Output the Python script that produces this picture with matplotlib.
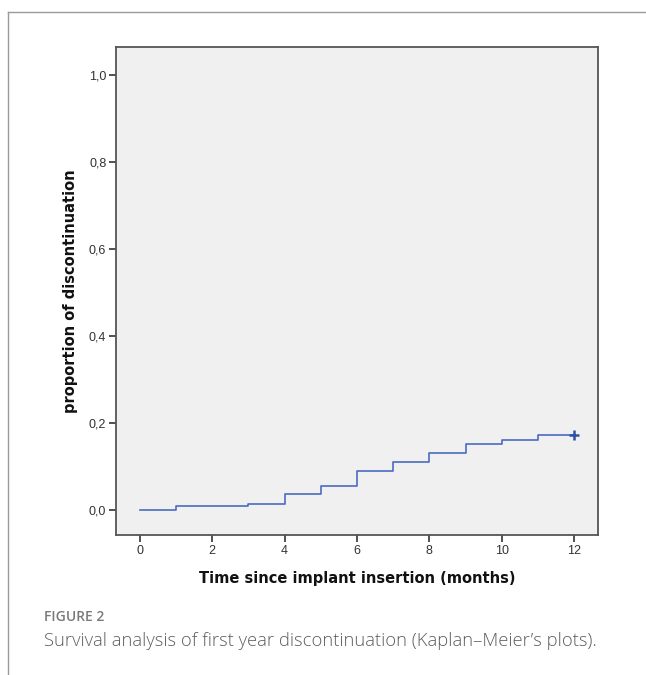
import matplotlib
matplotlib.use("Agg")
import matplotlib.pyplot as plt
from matplotlib.lines import Line2D

# Data
months = [0, 1, 2, 3, 4, 5, 6, 7, 8, 9, 10, 11, 12]
proportion = [0.0, 0.009, 0.009, 0.0145, 0.036, 0.055, 0.090, 0.110, 0.131, 0.151, 0.161, 0.172, 0.172]
censor_time = [12]
censor_value = [0.172]
x_ticks = [0, 2, 4, 6, 8, 10, 12]
y_ticks = [0.0, 0.2, 0.4, 0.6, 0.8, 1.0]
y_tick_labels = ["0,0", "0,2", "0,4", "0,6", "0,8", "1,0"]

W, H = 646, 675
fig = plt.figure(figsize=(W / 100, H / 100), dpi=100)
fig.patch.set_facecolor("white")

# page border lines
fig.add_artist(Line2D([8 / W, 1], [1 - 12 / H, 1 - 12 / H], color="#9a9a9a", lw=1.0))
fig.add_artist(Line2D([8 / W, 8 / W], [0, 1 - 12 / H], color="#9a9a9a", lw=1.0))

left, right, top, bottom = 116, 598, 47, 535
ax = fig.add_axes([left / W, 1 - bottom / H, (right - left) / W, (bottom - top) / H])
ax.set_facecolor("#f0f0f0")

line_color = "#4a6cc0"
ax.step(months, proportion, where="post", color=line_color, lw=1.2)
ax.plot(censor_time, censor_value, marker="+", color="#2f4fa8", markersize=7, mew=1.8, ls="none")

ax.set_xlim(-0.66, 12.66)
ax.set_ylim(-0.0575, 1.064)
ax.set_xticks(x_ticks)
ax.set_xticklabels([str(t) for t in x_ticks], fontsize=9, family="Liberation Sans", color="#333333")
ax.set_yticks(y_ticks)
ax.set_yticklabels(y_tick_labels, fontsize=9, family="Liberation Sans", color="#333333")
ax.tick_params(direction="out", length=5, width=1.2, color="#333333", pad=2)
for s in ax.spines.values():
    s.set_color("#555555")
    s.set_linewidth(1.3)

ax.set_xlabel("Time since implant insertion (months)", fontsize=10.5, fontweight="bold",
              family="DejaVu Sans", color="#111111")
ax.set_ylabel("proportion of discontinuation", fontsize=10.5, fontweight="bold",
              family="DejaVu Sans", color="#111111")
ax.xaxis.set_label_coords((357 - left) / (right - left), -(578 - bottom) / (bottom - top))
ax.xaxis.label.set_va("center")
ax.yaxis.set_label_coords(-(left - 70) / (right - left), 0.5)
ax.yaxis.label.set_va("center")

fig.text(44 / W, 1 - 617 / H, "FIGURE 2", fontsize=10, color="#7a7a7a", family="Open Sans",
         fontweight="semibold", va="center")
fig.text(44 / W, 1 - 641 / H, "Survival analysis of first year discontinuation (Kaplan\u2013Meier\u2019s plots).",
         fontsize=13.2, color="#5e5e5e", family="Open Sans", fontweight="light", va="center")

fig.savefig("out.png", dpi=100)
